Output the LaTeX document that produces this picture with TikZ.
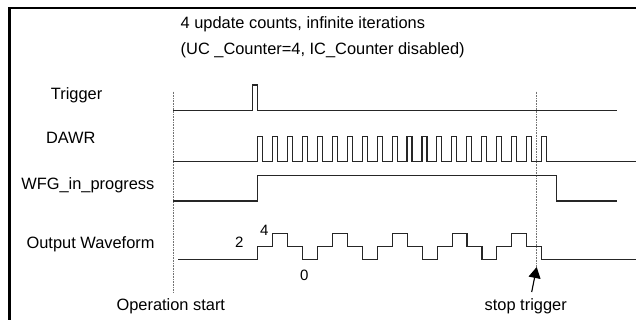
\documentclass[tikz,border=0pt]{standalone}
\usepackage{fontspec}
\setmainfont{Liberation Sans}
\usetikzlibrary{arrows.meta}
\begin{document}
\begin{tikzpicture}[x=1pt,y=-1pt,
  lbl/.style={inner sep=0pt,anchor=base west,font=\fontsize{16.4}{19}\selectfont},
  num/.style={inner sep=0pt,anchor=base west,font=\fontsize{15}{18}\selectfont},
  sig/.style={line width=1.1pt,line join=miter,black!85},
  guide/.style={densely dotted,line width=0.6pt,black!55}]
\useasboundingbox (0,0) rectangle (636,320);
\fill[white] (0,0) rectangle (636,320);
% frame
\draw[line width=2.8pt,line join=miter] (9.5,320) -- (9.5,8) -- (636,8);
% titles
\node[lbl] (t1) at (180.5,29) {4 update counts, infinite iterations};
\node[lbl] (t2) at (180.5,54.5) {(UC \_Counter=4, IC\_Counter disabled)};
% signal names
\node[lbl] (ltrig) at (50.7,99.2) {Trigger};
\node[lbl] (ldawr) at (45.8,144) {DAWR};
\node[lbl] (lwfg) at (21.1,189.8) {WFG\_in\_progress};
\node[lbl] (lout) at (26.4,248.3) {Output Waveform};
% level labels
\node[num] (n2) at (235,247.7) {2};
\node[num] (n4) at (260,235) {4};
\node[num] (n0) at (300,280) {0};
% bottom labels
\node[lbl] (lop) at (116.4,310.5) {Operation start};
\node[lbl] (lstop) at (484.5,310.5) {stop trigger};
% guides
\coordinate (g1top) at (173.3,91.7);
\coordinate (g1bot) at (173.3,292);
\coordinate (g2top) at (536.7,91.7);
\coordinate (tip) at (536.7,267);
\coordinate (tail) at (531.7,292);
\draw[guide] (g1top) -- (g1bot);
\draw[guide] (g2top) -- (tip);
% trigger
\draw[sig] (173,110.7) -- (252.7,110.7) -- (252.7,85) -- (257.3,85) -- (257.3,110.7) -- (616.7,110.7);
% DAWR
\draw[sig] (173,161.7) -- (257.5,161.7)
  \foreach \k in {1,...,20} { -- ++(0,-25) -- ++(5,0) -- ++(0,25) -- ++(9.95,0) }
  -- (636,161.7);
% WFG_in_progress
\draw[sig] (173,201) -- (257.5,201) -- (257.5,175.7) -- (556.7,175.7) -- (556.7,201) -- (616.7,201);
% output waveform
\draw[sig] (178.3,259.3) -- (257.7,259.3)
  \foreach \k in {1,...,5} { -- ++(0,-12.6) -- ++(14.95,0) -- ++(0,-13.4) -- ++(14.95,0)
     -- ++(0,13.4) -- ++(14.95,0) -- ++(0,12.6) -- ++(14.95,0) }
  -- (636,259.3);
% stop trigger arrow
\draw[line width=1.1pt,-{Triangle[length=11pt,width=12pt]}] (tail) -- (tip);
\end{tikzpicture}
\end{document}
